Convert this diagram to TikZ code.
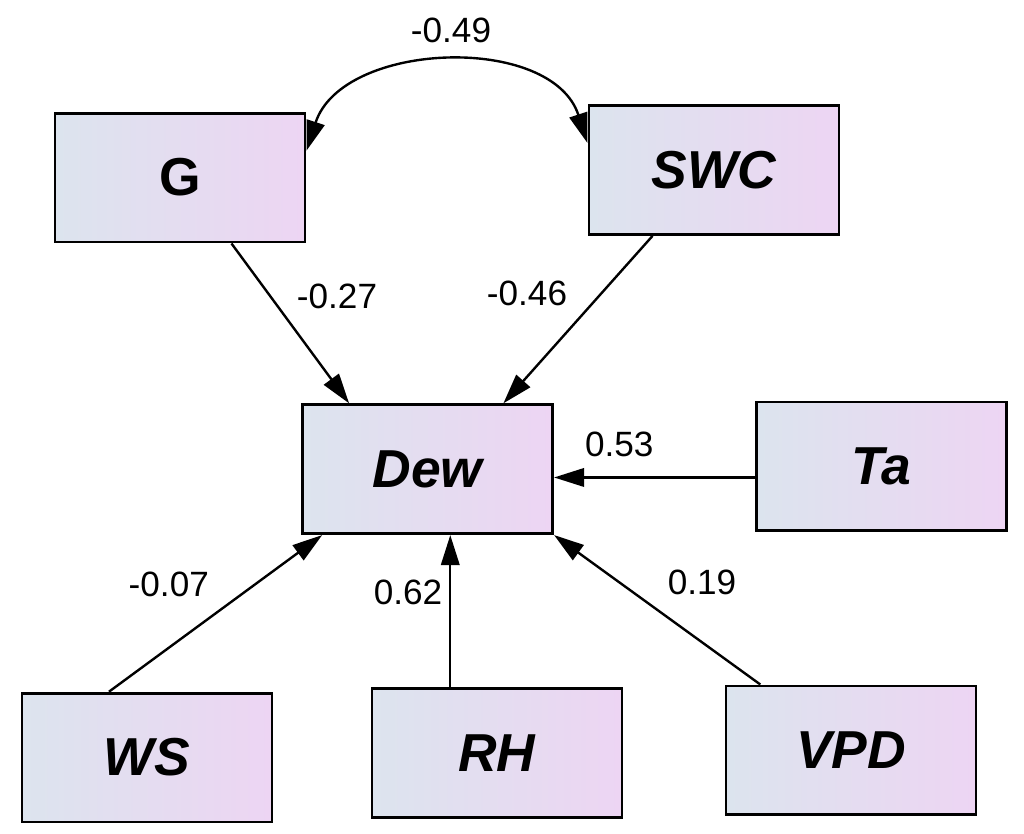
\documentclass[tikz,border=0pt]{standalone}
\usepackage{fontspec}
\setmainfont{Liberation Sans}
\usepackage{tikz}
\usetikzlibrary{arrows.meta,calc}
\definecolor{boxleft}{HTML}{DCE4EE}
\definecolor{boxright}{HTML}{EDD5F3}

\begin{document}
\begin{tikzpicture}[
    varbox/.style={draw=black, line width=2.1pt, left color=boxleft, right color=boxright,
        minimum width=6.25cm, minimum height=3.22cm, inner sep=0pt,
        font=\fontsize{38}{44}\selectfont\bfseries\itshape},
    coef/.style={font=\fontsize{25}{30}\selectfont},
    effect/.style={line width=1.7pt, -{Triangle[length=7.5mm,width=4.6mm]}},
    ]
    \useasboundingbox (0,0) rectangle (25.6,-20.85);

    % draw the variables
    \node[varbox, font=\fontsize{38}{44}\selectfont\bfseries] (G) at (4.5,-4.44) {G};
    \node[varbox] (SWC) at (17.85,-4.25) {SWC};
    \node[varbox] (Dew) at (10.69,-11.73) {Dew};
    \node[varbox] (Ta) at (22.03,-11.66) {Ta};
    \node[varbox] (WS) at (3.675,-18.94) {WS};
    \node[varbox] (RH) at (12.425,-18.825) {RH};
    \node[varbox] (VPD) at (21.275,-18.76) {VPD};

    % the correlation between G and SWC
    \draw[line width=1.7pt, {Triangle[length=7.5mm,width=4.6mm]}-{Triangle[length=7.5mm,width=4.6mm]}]
        (G.12) to[out=72, in=108, looseness=1.05] (SWC.168);

    % draw the paths to Dew
    \draw[effect] (G.-52) -- (Dew.140);
    \draw[effect] (SWC.-133) -- (Dew.41);
    \draw[effect] (Ta.185) -- (Ta.185 -| Dew.east);
    \draw[effect] (WS.120) -- (Dew.212);
    \draw[effect] (Dew.-71 |- RH.north) -- (Dew.-71);
    \draw[effect] (VPD.144) -- (Dew.south east);

    % the coefficients
    \node[coef] (cGSWC) at (11.275,-0.75) {-0.49};
    \node[coef] (cG) at (8.425,-7.42) {-0.27};
    \node[coef] (cSWC) at (13.175,-7.33) {-0.46};
    \node[coef] (cTa) at (15.48,-11.12) {0.53};
    \node[coef] (cWS) at (4.22,-14.6) {-0.07};
    \node[coef] (cRH) at (10.2,-14.82) {0.62};
    \node[coef] (cVPD) at (17.55,-14.55) {0.19};
\end{tikzpicture}
\end{document}
